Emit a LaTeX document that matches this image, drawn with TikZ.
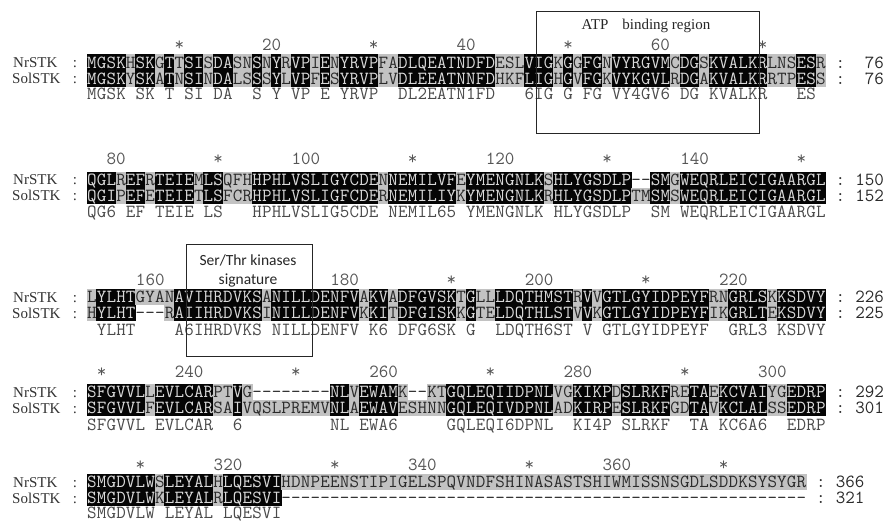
\documentclass[tikz,border=0pt]{standalone}
\usepackage{fontspec}
\newfontfamily\namefont{Liberation Serif}
\newfontfamily\lblfont{Carlito}
\definecolor{alnblack}{HTML}{050505}
\definecolor{alngray}{HTML}{C2C2C2}
\definecolor{boxtext}{HTML}{DADADA}
\definecolor{restext}{HTML}{2A2A2A}
\definecolor{constext}{HTML}{4A4A4A}
\definecolor{rulertext}{HTML}{555555}
\definecolor{nametext}{HTML}{333333}
\tikzset{
  res/.style={inner sep=0pt, anchor=base, font=\ttfamily\fontsize{18.5pt}{18.5pt}\selectfont},
  resB/.style={res, text=boxtext},
  resG/.style={res, text=restext},
  cons/.style={res, text=constext},
  rul/.style={res, text=rulertext},
  rulnum/.style={rul, anchor=base east},
  endcolon/.style={res, text=restext},
  endnum/.style={res, anchor=base east, text=restext},
  seqname/.style={inner sep=0pt, anchor=base west, text=nametext, font=\namefont\fontsize{15pt}{15pt}\selectfont},
  namecolon/.style={inner sep=0pt, anchor=base, text=nametext, font=\namefont\fontsize{15pt}{15pt}\selectfont},
  motifbox/.style={draw=black!85, line width=0.9pt, inner sep=0pt},
  atplbl/.style={inner sep=0pt, anchor=base, text=black!85, font=\namefont\fontsize{15pt}{15pt}\selectfont},
  serlbl/.style={inner sep=0pt, anchor=base, text=black!85, font=\lblfont\fontsize{15.5pt}{15.5pt}\selectfont},
}
\ExplSyntaxOn
\tl_new:N \l__aln_a_tl
\tl_new:N \l__aln_b_tl
\tl_new:N \l__aln_k_tl
\tl_new:N \l__aln_x_tl
\tl_new:N \l__aln_xl_tl
\tl_new:N \l__aln_xr_tl
\tl_new:N \l__aln_yt_tl
\tl_new:N \l__aln_yb_tl
\tl_new:N \l__aln_ybase_tl
% rectangle behind one residue: #1 col, #2 y centre, #3 char, #4 class
\cs_new_protected:Npn \__aln_rect:nnnn #1#2#3#4
  {
    \str_if_eq:nnF {#3} { - }
      {
        \tl_set:Nx \l__aln_xl_tl { \fp_eval:n { 87 + (#1 - 1) * 9.72 - 0.3 } }
        \tl_set:Nx \l__aln_xr_tl { \fp_eval:n { 87 + (#1) * 9.72 + 0.3 } }
        \tl_set:Nx \l__aln_yt_tl { \fp_eval:n { -(#2) + 8.2 } }
        \tl_set:Nx \l__aln_yb_tl { \fp_eval:n { -(#2) - 8.2 } }
        \str_if_eq:nnTF {#4} {B}
          { \fill[alnblack] (\l__aln_xl_tl pt, \l__aln_yt_tl pt) rectangle (\l__aln_xr_tl pt, \l__aln_yb_tl pt); }
          { \fill[alngray] (\l__aln_xl_tl pt, \l__aln_yt_tl pt) rectangle (\l__aln_xr_tl pt, \l__aln_yb_tl pt); }
      }
  }
\cs_generate_variant:Nn \__aln_rect:nnnn { nnee }
% residue letter: #1 block, #2 row, #3 col, #4 y centre, #5 char, #6 class
\cs_new_protected:Npn \__aln_text:nnnnnn #1#2#3#4#5#6
  {
    \tl_set:Nx \l__aln_x_tl { \fp_eval:n { 87 + (#3 - 0.5) * 9.72 } }
    \tl_set:Nx \l__aln_ybase_tl { \fp_eval:n { -(#4) - 5.6 } }
    \str_if_eq:nnTF {#6} {B}
      { \node[resB] (b#1r#2c#3) at (\l__aln_x_tl pt, \l__aln_ybase_tl pt) {#5}; }
      { \node[resG] (b#1r#2c#3) at (\l__aln_x_tl pt, \l__aln_ybase_tl pt) {#5}; }
  }
\cs_generate_variant:Nn \__aln_text:nnnnnn { nnnnee }
% #1 block id, #2 y centre of first row, #3 seq1, #4 seq2, #5 consensus, #6 consensus offset
\cs_new_protected:Npn \alnBlock #1#2#3#4#5#6
  {
    \int_step_inline:nn { \tl_count:n {#3} }
      {
        \tl_set:Nx \l__aln_a_tl { \tl_item:nn {#3} {##1} }
        \tl_set:Nx \l__aln_b_tl { \tl_item:nn {#4} {##1} }
        \tl_set:Nx \l__aln_k_tl { \tl_item:nn {#5} {##1} }
        \str_if_eq:eeTF { \l__aln_k_tl } { . }
          {
            \__aln_rect:nnee {##1} {#2} { \l__aln_a_tl } { G }
            \__aln_rect:nnee {##1} { #2 + 16 } { \l__aln_b_tl } { G }
          }
          {
            \__aln_rect:nnee {##1} {#2} { \l__aln_a_tl } { B }
            \__aln_rect:nnee {##1} { #2 + 16 } { \l__aln_b_tl } { B }
          }
      }
    \int_step_inline:nn { \tl_count:n {#3} }
      {
        \tl_set:Nx \l__aln_a_tl { \tl_item:nn {#3} {##1} }
        \tl_set:Nx \l__aln_b_tl { \tl_item:nn {#4} {##1} }
        \tl_set:Nx \l__aln_k_tl { \tl_item:nn {#5} {##1} }
        \str_if_eq:eeTF { \l__aln_k_tl } { . }
          {
            \__aln_text:nnnnee {#1} {1} {##1} {#2} { \l__aln_a_tl } { G }
            \__aln_text:nnnnee {#1} {2} {##1} { #2 + 16 } { \l__aln_b_tl } { G }
          }
          {
            \__aln_text:nnnnee {#1} {1} {##1} {#2} { \l__aln_a_tl } { B }
            \__aln_text:nnnnee {#1} {2} {##1} { #2 + 16 } { \l__aln_b_tl } { B }
            \tl_set:Nx \l__aln_x_tl { \fp_eval:n { 87 + (##1 - 0.5) * 9.72 } }
            \tl_set:Nx \l__aln_ybase_tl { \fp_eval:n { -(#2) - (#6) - 5.6 } }
            \node[cons] (b#1r3c##1) at (\l__aln_x_tl pt, \l__aln_ybase_tl pt) {\l__aln_k_tl};
          }
      }
  }
\cs_new_protected:Npn \alnStar #1#2#3
  {
    \tl_set:Nx \l__aln_x_tl { \fp_eval:n { 87 + (#3 - 0.5) * 9.72 } }
    \tl_set:Nx \l__aln_ybase_tl { \fp_eval:n { -(#2) - 5.6 } }
    \node[rul] (#1) at (\l__aln_x_tl pt, \l__aln_ybase_tl pt) {*};
  }
\cs_new_protected:Npn \alnNum #1#2#3#4
  {
    \tl_set:Nx \l__aln_x_tl { \fp_eval:n { 87 + (#3) * 9.72 } }
    \tl_set:Nx \l__aln_ybase_tl { \fp_eval:n { -(#2) - 5.6 } }
    \node[rulnum] (#1) at (\l__aln_x_tl pt, \l__aln_ybase_tl pt) {#4};
  }
% names and end numbers: #1 block id, #2 y of first row, #3 columns, #4 end number row1, #5 end number row2
\cs_new_protected:Npn \alnFrame #1#2#3#4#5
  {
    \tl_set:Nx \l__aln_ybase_tl { \fp_eval:n { -(#2) - 5 } }
    \node[seqname] (name#1a) at (13pt, \l__aln_ybase_tl pt) {NrSTK};
    \node[namecolon] (ncol#1a) at (75pt, \l__aln_ybase_tl pt) {:};
    \tl_set:Nx \l__aln_ybase_tl { \fp_eval:n { -(#2) - 16 - 5 } }
    \node[seqname] (name#1b) at (12pt, \l__aln_ybase_tl pt) {SolSTK};
    \node[namecolon] (ncol#1b) at (75pt, \l__aln_ybase_tl pt) {:};
    \tl_set:Nx \l__aln_x_tl { \fp_eval:n { 87 + (#3 + 1.5) * 9.72 } }
    \tl_set:Nx \l__aln_xr_tl { \fp_eval:n { 87 + (#3 + 6) * 9.72 } }
    \tl_set:Nx \l__aln_ybase_tl { \fp_eval:n { -(#2) - 5.6 } }
    \node[endcolon] (ecol#1a) at (\l__aln_x_tl pt, \l__aln_ybase_tl pt) {:};
    \node[endnum] (enum#1a) at (\l__aln_xr_tl pt, \l__aln_ybase_tl pt) {#4};
    \tl_set:Nx \l__aln_ybase_tl { \fp_eval:n { -(#2) - 16 - 5.6 } }
    \node[endcolon] (ecol#1b) at (\l__aln_x_tl pt, \l__aln_ybase_tl pt) {:};
    \node[endnum] (enum#1b) at (\l__aln_xr_tl pt, \l__aln_ybase_tl pt) {#5};
  }
\ExplSyntaxOff
\begin{document}
\begin{tikzpicture}[x=1pt,y=1pt]
\useasboundingbox[fill=white] (0,0) rectangle (886,-529);
% ---------- Block 1 ----------
\alnStar{s1a}{45}{10}\alnNum{n1a}{45}{20}{20}\alnStar{s1b}{45}{30}\alnNum{n1b}{45}{40}{40}
\alnStar{s1c}{45}{50}\alnNum{n1c}{45}{60}{60}\alnStar{s1d}{45}{70}
\alnBlock{1}{62.5}
 {MGSKHSKGTTSISDASNSNYRVPIENYRVPFADLQEATNDFDESLVIGKGGFGNVYRGVMCDGSKVALKRLNSESR}
 {MGSKYSKATNSINDALSSSYLVPFESYRVPLVDLEEATNNFDHKFLIGHGVFGKVYKGVLRDGAKVALKRRTPESS}
 {MGSK.SK.T.SI.DA..S.Y.VP.E.YRVP..DL2EATN1FD...6IG.G.FG.VY4GV6.DG.KVALKR...ES.}{31}
\alnFrame{1}{62.5}{76}{76}{76}
% ---------- Block 2 ----------
\alnNum{n2a}{159}{4}{80}\alnStar{s2a}{159}{14}\alnNum{n2b}{159}{24}{100}\alnStar{s2b}{159}{34}
\alnNum{n2c}{159}{44}{120}\alnStar{s2c}{159}{54}\alnNum{n2d}{159}{64}{140}\alnStar{s2d}{159}{74}
\alnBlock{2}{180}
 {QGLREFRTEIEMLSQFHHPHLVSLIGYCDENNEMILVFEYMENGNLKSHLYGSDLP--SMGWEQRLEICIGAARGL}
 {QGIPEFETEIETLSFCRHPHLVSLIGFCDERNEMILIYKYMENGNLKRHLYGSDLPTMSMSWEQRLEICIGAARGL}
 {QG6.EF.TEIE.LS...HPHLVSLIG5CDE.NEMIL65.YMENGNLK.HLYGSDLP..SM.WEQRLEICIGAARGL}{32}
\alnFrame{2}{180}{76}{150}{152}
% ---------- Block 3 ----------
\alnNum{n3a}{280}{8}{160}\alnNum{n3b}{280}{28}{180}\alnStar{s3a}{280}{38}
\alnNum{n3c}{280}{48}{200}\alnStar{s3b}{280}{58}\alnNum{n3d}{280}{68}{220}
\alnBlock{3}{297}
 {LYLHTGYANAVIHRDVKSANILLDENFVAKVADFGVSKTGLLLDQTHMSTRVVGTLGYIDPEYFRNGRLSKKSDVY}
 {HYLHT---RAIIHRDVKSINILLDENFVKKITDFGISKKGTELDQTHLSTVVKGTLGYIDPEYFIKGRLTEKSDVY}
 {.YLHT....A6IHRDVKS.NILLDENFV.K6.DFG6SK.G..LDQTH6ST.V.GTLGYIDPEYF..GRL3.KSDVY}{33}
\alnFrame{3}{297}{76}{226}{225}
% ---------- Block 4 ----------
\alnStar{s4a}{372}{2}\alnNum{n4a}{372}{12}{240}\alnStar{s4b}{372}{22}\alnNum{n4b}{372}{32}{260}
\alnStar{s4c}{372}{42}\alnNum{n4c}{372}{52}{280}\alnStar{s4d}{372}{62}\alnNum{n4d}{372}{72}{300}
\alnBlock{4}{392}
 {SFGVVLLEVLCARPTVG--------NLVEWAMK--KTGQLEQIIDPNLVGKIKPDSLRKFRETAEKCVAIYGEDRP}
 {SFGVVLFEVLCARSAIVQSLPREMVNLAEWAVESHNNGQLEQIVDPNLADKIRPESLRKFGDTAVKCLALSSEDRP}
 {SFGVVL.EVLCAR..6.........NL.EWA6.....GQLEQI6DPNL..KI4P.SLRKF..TA.KC6A6..EDRP}{33}
\alnFrame{4}{392}{76}{292}{301}
% ---------- Block 5 ----------
\alnStar{s5a}{465}{6}\alnNum{n5a}{465}{16}{320}\alnStar{s5b}{465}{26}\alnNum{n5b}{465}{36}{340}
\alnStar{s5c}{465}{46}\alnNum{n5c}{465}{56}{360}\alnStar{s5d}{465}{66}
\alnBlock{5}{482}
 {SMGDVLWSLEYALHLQESVIHDNPEENSTIPIGELSPQVNDFSHINASASTSHIWMISSNSGDLSDDKSYSYGR}
 {SMGDVLWKLEYALRLQESVI------------------------------------------------------}
 {SMGDVLW.LEYAL.LQESVI......................................................}{31}
\alnFrame{5}{482}{74}{366}{321}
% ---------- motif boxes ----------
\node[motifbox, minimum width=223.5pt, minimum height=122pt] (atpbox) at (647.75,-72) {};
\node[atplbl] (atplabel) at (646,-30) {ATP\hspace{14pt}binding region};
\node[motifbox, minimum width=126pt, minimum height=112pt] (serbox) at (249,-300) {};
\node[serlbl] (serlabel1) at (248,-266) {Ser/Thr kinases};
\node[serlbl] (serlabel2) at (248,-284.5) {signature};
\end{tikzpicture}
\end{document}
